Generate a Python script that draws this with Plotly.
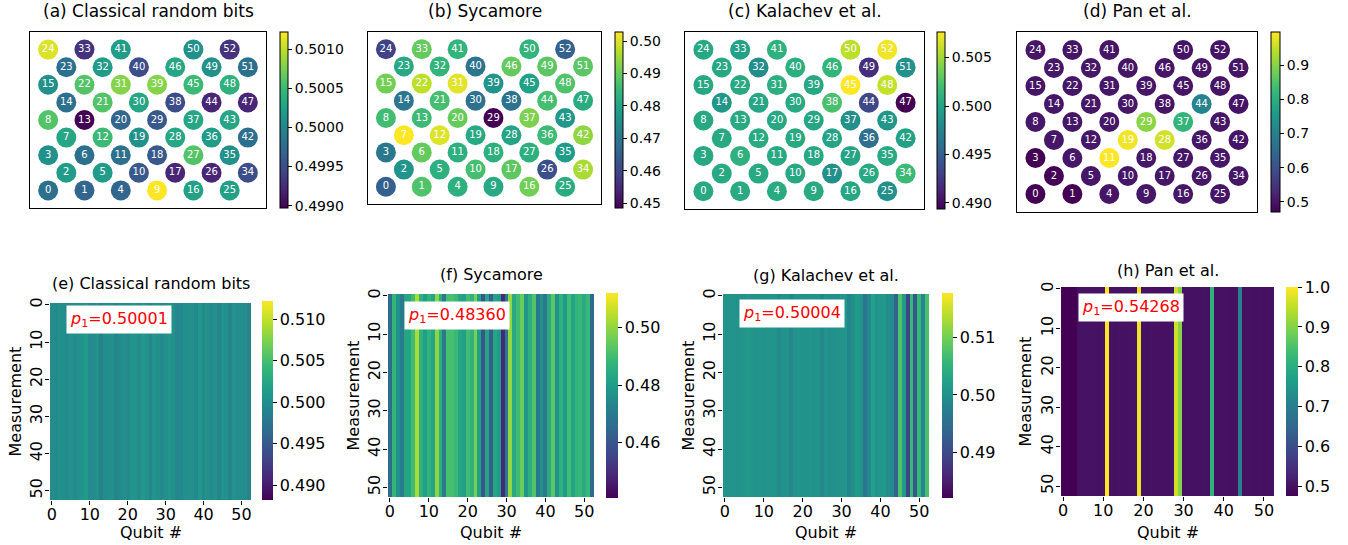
import plotly.graph_objects as go

W, H = 1348, 545

# ---------------- data ----------------
# Sycamore qubit lattice (top row = first list); None = missing site
LATTICE_ROWS = [
    [24, 33, 41, None, 50, 52],
    [23, 32, 40, 46, 49, 51],
    [15, 22, 31, 39, 45, 48],
    [14, 21, 30, 38, 44, 47],
    [8, 13, 20, 29, 37, 43],
    [7, 12, 19, 28, 36, 42],
    [3, 6, 11, 18, 27, 35],
    [2, 5, 10, 17, 26, 34],
    [0, 1, 4, 9, 16, 25],
]

QUBITS = list(range(53))
MEASUREMENTS = list(range(53))

# mean p1 per qubit (index = qubit number)
classical = [0.4998, 0.4997, 0.5002, 0.5001, 0.4997, 0.5002, 0.4998, 0.5003, 0.5006, 0.50122,
             0.4996, 0.4998, 0.5005, 0.49897, 0.4998, 0.5001, 0.50025, 0.4992, 0.4996, 0.5001,
             0.4997, 0.5006, 0.5006, 0.4998, 0.5011, 0.50025, 0.4992, 0.5006, 0.5003, 0.4996,
             0.5003, 0.5008, 0.5002, 0.4993, 0.4995, 0.5001, 0.5002, 0.5003, 0.4995, 0.5008,
             0.4995, 0.5002, 0.4998, 0.5003, 0.4992, 0.5005, 0.5003, 0.4992, 0.5004, 0.5001,
             0.5001, 0.4998, 0.4993]

sycamore = [0.465, 0.4876, 0.4767, 0.4702, 0.4827, 0.4827, 0.4898, 0.5028, 0.486, 0.481,
            0.4865, 0.4827, 0.5000, 0.4855, 0.470, 0.491, 0.491, 0.489, 0.4827, 0.481,
            0.490, 0.4865, 0.4974, 0.481, 0.4594, 0.482, 0.462, 0.4827, 0.480, 0.4485,
            0.4686, 0.5006, 0.484, 0.4898, 0.4957, 0.4784, 0.4855, 0.492, 0.4691, 0.4767,
            0.4691, 0.484, 0.4936, 0.4773, 0.4865, 0.4795, 0.4898, 0.482, 0.4876, 0.4887,
            0.484, 0.4887, 0.4653]

kalachev = [0.5004, 0.5005, 0.5004, 0.5003, 0.5005, 0.5004, 0.5010, 0.5004, 0.5003, 0.5004,
            0.5003, 0.5004, 0.5005, 0.5004, 0.4990, 0.5003, 0.5002, 0.4985, 0.5003, 0.5004,
            0.5003, 0.5002, 0.5004, 0.5003, 0.5003, 0.4985, 0.5004, 0.5000, 0.5000, 0.5002,
            0.5004, 0.5008, 0.4983, 0.4998, 0.5018, 0.5004, 0.4961, 0.4985, 0.5023, 0.5003,
            0.5008, 0.5010, 0.4998, 0.4990, 0.4934, 0.50764, 0.5014, 0.48938, 0.5060, 0.4918,
            0.5058, 0.4985, 0.5073]

pan = [0.472, 0.470, 0.474, 0.471, 0.500, 0.502, 0.503, 0.503, 0.502, 0.501,
       0.503, 0.998, 0.502, 0.501, 0.502, 0.500, 0.501, 0.502, 0.503, 0.988,
       0.502, 0.501, 0.502, 0.501, 0.500, 0.500, 0.501, 0.502, 0.962, 0.905,
       0.501, 0.502, 0.501, 0.500, 0.501, 0.502, 0.501, 0.815, 0.500, 0.501,
       0.500, 0.500, 0.499, 0.500, 0.705, 0.500, 0.500, 0.499, 0.499, 0.500,
       0.499, 0.500, 0.499]

SERIES = [classical, sycamore, kalachev, pan]

TOP_TITLES = ["(a) Classical random bits", "(b) Sycamore", "(c) Kalachev et al.", "(d) Pan et al."]
BOTTOM_TITLES = ["(e) Classical random bits", "(f) Sycamore", "(g) Kalachev et al.", "(h) Pan et al."]
P1_VALUES = ["0.50001", "0.48360", "0.50004", "0.54268"]

TOP_CRANGE = [(0.49897, 0.50122), (0.4485, 0.5028), (0.48938, 0.50764), (0.47, 0.998)]
TOP_CTICKS = [[0.4990, 0.4995, 0.5000, 0.5005, 0.5010],
              [0.45, 0.46, 0.47, 0.48, 0.49, 0.50],
              [0.490, 0.495, 0.500, 0.505],
              [0.5, 0.6, 0.7, 0.8, 0.9]]
TOP_CFMT = [".4f", ".2f", ".3f", ".1f"]

HEAT_CRANGE = [(0.4882, 0.5122), (0.4405, 0.5122), (0.482, 0.5178), (0.4767, 1.0)]
HEAT_CTICKS = [[0.490, 0.495, 0.500, 0.505, 0.510],
               [0.46, 0.48, 0.50],
               [0.49, 0.50, 0.51],
               [0.5, 0.6, 0.7, 0.8, 0.9, 1.0]]
HEAT_CFMT = [".3f", ".2f", ".2f", ".1f"]
AXIS_TICKS = [0, 10, 20, 30, 40, 50]

# ---------------- layout geometry (screen pixels) ----------------
TOP_BOX = [(30, 266, 32, 208), (368, 601, 32, 204), (685, 924, 32, 209), (1017, 1257, 32, 212)]
TOP_CB = [(280, 288, 32, 208), (615, 623, 32, 208), (937, 945, 32, 209), (1271, 1280, 32, 212)]
HEAT_BOX = [(50, 251, 303, 500), (388, 594, 294, 497), (723, 929, 294, 497), (1061, 1274, 287, 496)]
HEAT_CB = [(262, 273, 301, 500), (606, 618, 293, 498), (942, 953, 293, 498), (1286, 1298, 287, 496)]
HEAT_TITLE_Y = [283, 274, 275, 270]
MEAS_X = [15, 353, 688, 1025]
P1_BOX = [(66, 305), (404, 301), (739, 299), (1078, 293)]

FONT = "DejaVu Sans"


def px(x):
    return x / W


def py(y):
    return 1 - y / H


def xd(x0, x1):
    return [px(x0), px(x1)]


def yd(y0, y1):
    return [py(y1), py(y0)]


# lattice coordinates
lat_x, lat_y, lat_q = [], [], []
for r, row in enumerate(LATTICE_ROWS):
    for c, q in enumerate(row):
        if q is None:
            continue
        lat_x.append(c + (0.5 if r % 2 else 0.0))
        lat_y.append(r)
        lat_q.append(q)

fig = go.Figure()
layout = {}
annotations = []

for i in range(4):
    vals = SERIES[i]
    # ---- top lattice panel ----
    ax = i + 1
    x0, x1, y0, y1 = TOP_BOX[i]
    cx0, cx1, cy0, cy1 = TOP_CB[i]
    fig.add_trace(go.Scatter(
        x=lat_x, y=lat_y, mode="markers+text",
        text=[str(q) for q in lat_q],
        textfont=dict(family=FONT, size=10, color="white"),
        textposition="middle center",
        marker=dict(
            size=20, color=[vals[q] for q in lat_q], colorscale="Viridis",
            cmin=TOP_CRANGE[i][0], cmax=TOP_CRANGE[i][1], line=dict(width=0),
            showscale=True,
            colorbar=dict(
                x=px(cx0), xanchor="left", xpad=0, ypad=0,
                y=py(cy0), yanchor="top", len=(cy1 - cy0) / H, lenmode="fraction",
                thickness=cx1 - cx0, thicknessmode="pixels",
                outlinewidth=1, outlinecolor="black",
                tickvals=TOP_CTICKS[i], tickformat=TOP_CFMT[i],
                ticks="outside", ticklen=4, tickwidth=1, tickcolor="black",
                tickfont=dict(family=FONT, size=14, color="black"),
            ),
        ),
        hoverinfo="text", showlegend=False,
        xaxis=f"x{ax}", yaxis=f"y{ax}",
    ))
    layout[f"xaxis{ax}"] = dict(domain=xd(x0, x1), range=[-0.5, 6.0], anchor=f"y{ax}",
                                showgrid=False, zeroline=False, showticklabels=False, ticks="",
                                showline=True, mirror=True, linecolor="black", linewidth=1)
    layout[f"yaxis{ax}"] = dict(domain=yd(y0, y1), range=[9.0, -1.0], anchor=f"x{ax}",
                                showgrid=False, zeroline=False, showticklabels=False, ticks="",
                                showline=True, mirror=True, linecolor="black", linewidth=1)
    annotations.append(dict(text=TOP_TITLES[i], x=px((x0 + x1) / 2), y=py(11),
                            xref="paper", yref="paper", xanchor="center", yanchor="middle",
                            showarrow=False, font=dict(family=FONT, size=17, color="black")))

    # ---- bottom heatmap panel ----
    ax = i + 5
    x0, x1, y0, y1 = HEAT_BOX[i]
    cx0, cx1, cy0, cy1 = HEAT_CB[i]
    z = [list(vals) for _ in MEASUREMENTS]
    fig.add_trace(go.Heatmap(
        z=z, x=QUBITS, y=MEASUREMENTS, colorscale="Viridis",
        zmin=HEAT_CRANGE[i][0], zmax=HEAT_CRANGE[i][1],
        colorbar=dict(
            x=px(cx0), xanchor="left", xpad=0, ypad=0,
            y=py(cy0), yanchor="top", len=(cy1 - cy0) / H, lenmode="fraction",
            thickness=cx1 - cx0, thicknessmode="pixels", outlinewidth=0,
            tickvals=HEAT_CTICKS[i], tickformat=HEAT_CFMT[i],
            ticks="outside", ticklen=4, tickwidth=1, tickcolor="black",
            tickfont=dict(family=FONT, size=16, color="black"),
        ),
        xaxis=f"x{ax}", yaxis=f"y{ax}",
    ))
    layout[f"xaxis{ax}"] = dict(domain=xd(x0, x1), range=[-0.5, 52.5], anchor=f"y{ax}",
                                showgrid=False, zeroline=False, showline=False,
                                tickvals=AXIS_TICKS, ticks="outside", ticklen=4, tickwidth=1,
                                tickcolor="black", ticklabelstandoff=-4,
                                tickfont=dict(family=FONT, size=16, color="black"))
    layout[f"yaxis{ax}"] = dict(domain=yd(y0, y1), range=[52.5, -0.5], anchor=f"x{ax}",
                                showgrid=False, zeroline=False, showline=False,
                                tickvals=AXIS_TICKS, ticks="outside", ticklen=4, tickwidth=1,
                                tickcolor="black", tickangle=-90, ticklabelstandoff=-3,
                                tickfont=dict(family=FONT, size=16, color="black"))
    annotations.append(dict(text=BOTTOM_TITLES[i], x=px((x0 + x1) / 2), y=py(HEAT_TITLE_Y[i]),
                            xref="paper", yref="paper", xanchor="center", yanchor="middle",
                            showarrow=False, font=dict(family=FONT, size=16, color="black")))
    annotations.append(dict(text="Qubit #", x=px((x0 + x1) / 2), y=py(532),
                            xref="paper", yref="paper", xanchor="center", yanchor="middle",
                            showarrow=False, font=dict(family=FONT, size=16, color="black")))
    annotations.append(dict(text="Measurement", x=px(MEAS_X[i]), y=py((y0 + y1) / 2),
                            xref="paper", yref="paper", xanchor="center", yanchor="middle",
                            textangle=-90,
                            showarrow=False, font=dict(family=FONT, size=16, color="black")))
    bx, by = P1_BOX[i]
    annotations.append(dict(text=f"<i>p</i><sub>1</sub>={P1_VALUES[i]}", x=px(bx), y=py(by),
                            xref="paper", yref="paper", xanchor="left", yanchor="top",
                            showarrow=False, bgcolor="white", borderpad=3,
                            font=dict(family=FONT, size=16, color="red")))

fig.update_layout(
    width=W, height=H, margin=dict(l=0, r=0, t=0, b=0, autoexpand=False),
    paper_bgcolor="white", plot_bgcolor="white",
    annotations=annotations, showlegend=False,
    font=dict(family=FONT, color="black"),
    **layout,
)

fig.write_html(
    "out.html",
    config={"displayModeBar": False},
    post_script="document.body.style.margin='0';document.body.style.overflow='hidden';",
)
